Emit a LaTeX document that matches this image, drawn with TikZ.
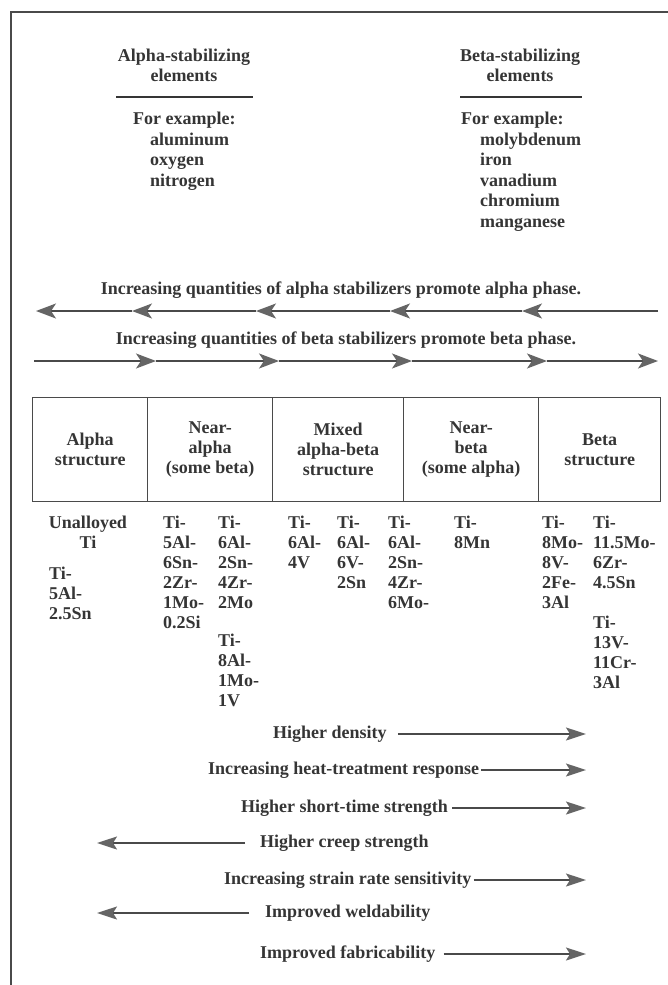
\documentclass[tikz,border=0pt]{standalone}
\usepackage{fontspec}
\setmainfont{Liberation Serif}
\usetikzlibrary{arrows.meta}
\definecolor{ink}{HTML}{353535}
\definecolor{linec}{HTML}{4A4A4A}
\definecolor{headc}{HTML}{656565}
\begin{document}
\begin{tikzpicture}[x=1pt,y=-1pt,
  txt/.style={font=\fontsize{18}{20}\selectfont\bfseries, text=ink, inner sep=0pt},
  one/.style={txt, text height=12pt, text depth=4pt},
  col/.style={txt, align=left, anchor=north west},
  lst/.style={txt, align=left, anchor=north west, font=\fontsize{18}{20.5}\selectfont\bfseries},
  hdr/.style={txt, align=center, anchor=north},
  cell/.style={draw=linec, line width=1.4pt, anchor=north west, minimum height=104pt,
     txt, align=center},
  frameline/.style={draw=linec, line width=1.5pt},
  rulel/.style={draw=ink, line width=2.2pt},
  phase/.style={draw=linec, line width=1.8pt, -{Stealth[length=20pt,width=15pt,inset=5pt,color=headc]}},
  prop/.style={draw=linec, line width=1.7pt, -{Stealth[length=20pt,width=13pt,inset=4pt,color=headc]}}]
\useasboundingbox (0,0) rectangle (668,985);

% frame
\coordinate (fTL) at (11,12);
\coordinate (fTR) at (668,12);
\coordinate (fBL) at (11,985);
\draw[frameline] (fTR) -- (fTL) -- (fBL);

% headers
\node[hdr] (ah) at (184,49) {Alpha-stabilizing\\elements};
\coordinate (ar1) at (116,97); \coordinate (ar2) at (253,97);
\draw[rulel] (ar1) -- (ar2);
\node[lst] (al) at (133,112) {For example:\\\hspace*{17pt}aluminum\\\hspace*{17pt}oxygen\\\hspace*{17pt}nitrogen};

\node[hdr] (bh) at (520,49) {Beta-stabilizing\\elements};
\coordinate (br1) at (460,97); \coordinate (br2) at (582,97);
\draw[rulel] (br1) -- (br2);
\node[lst] (bl) at (461,112) {For example:\\\hspace*{19pt}molybdenum\\\hspace*{19pt}iron\\\hspace*{19pt}vanadium\\\hspace*{19pt}chromium\\\hspace*{19pt}manganese};

% phase arrows
\node[one] (at) at (341,290) {Increasing quantities of alpha stabilizers promote alpha phase.};
\coordinate (a0) at (658,311); \coordinate (a1) at (522,311); \coordinate (a2) at (390,311);
\coordinate (a3) at (256,311); \coordinate (a4) at (132,311); \coordinate (a5) at (36,311);
\draw[phase] (a0) -- (a1);
\draw[phase] (a1) -- (a2);
\draw[phase] (a2) -- (a3);
\draw[phase] (a3) -- (a4);
\draw[phase] (a4) -- (a5);

\node[one] (bt) at (346,340) {Increasing quantities of beta stabilizers promote beta phase.};
\coordinate (b0) at (34,361); \coordinate (b1) at (156,361); \coordinate (b2) at (279,361);
\coordinate (b3) at (412,361); \coordinate (b4) at (547,361); \coordinate (b5) at (658,361);
\draw[phase] (b0) -- (b1);
\draw[phase] (b1) -- (b2);
\draw[phase] (b2) -- (b3);
\draw[phase] (b3) -- (b4);
\draw[phase] (b4) -- (b5);

% structure cells
\node[cell, minimum width=115pt] (c1) at (32,397) {Alpha\\structure};
\node[cell, minimum width=125pt] (c2) at (147,397) {Near-\\alpha\\(some beta)};
\node[cell, minimum width=131pt] (c3) at (272,397) {Mixed\\alpha-beta\\structure};
\node[cell, minimum width=135pt] (c4) at (403,397) {Near-\\beta\\(some alpha)};
\node[cell, minimum width=122pt] (c5) at (538,397) {Beta\\structure};

% alloys
\node[txt, align=center, anchor=north] (k1) at (88,516) {Unalloyed\\Ti};
\node[col] (k1b) at (49,567) {Ti-\\5Al-\\2.5Sn};
\node[col] (k2) at (163,516) {Ti-\\5Al-\\6Sn-\\2Zr-\\1Mo-\\0.2Si};
\node[col] (k3) at (218,516) {Ti-\\6Al-\\2Sn-\\4Zr-\\2Mo};
\node[col] (k3b) at (218,634) {Ti-\\8Al-\\1Mo-\\1V};
\node[col] (k4) at (288,516) {Ti-\\6Al-\\4V};
\node[col] (k5) at (337,516) {Ti-\\6Al-\\6V-\\2Sn};
\node[col] (k6) at (388,516) {Ti-\\6Al-\\2Sn-\\4Zr-\\6Mo-};
\node[col] (k7) at (454,516) {Ti-\\8Mn};
\node[col] (k8) at (542,516) {Ti-\\8Mo-\\8V-\\2Fe-\\3Al};
\node[col] (k9) at (593,516) {Ti-\\11.5Mo-\\6Zr-\\4.5Sn};
\node[col] (k9b) at (593,616) {Ti-\\13V-\\11Cr-\\3Al};

% property arrows
\coordinate (tipR) at (586,0);
\coordinate (tipL) at (97,0);
\node[one, anchor=west] (p1) at (273,734) {Higher density};
\draw[prop] ([xshift=11pt]p1.east) -- (p1.east -| tipR);
\node[one, anchor=west] (p2) at (208,770) {Increasing heat-treatment response};
\draw[prop] ([xshift=2pt]p2.east) -- (p2.east -| tipR);
\node[one, anchor=west] (p3) at (241,808) {Higher short-time strength};
\draw[prop] ([xshift=4pt]p3.east) -- (p3.east -| tipR);
\node[one, anchor=west] (p4) at (260,843) {Higher creep strength};
\draw[prop] ([xshift=-15pt]p4.west) -- (p4.west -| tipL);
\node[one, anchor=west] (p5) at (224,880) {Increasing strain rate sensitivity};
\draw[prop] ([xshift=2pt]p5.east) -- (p5.east -| tipR);
\node[one, anchor=west] (p6) at (265,913) {Improved weldability};
\draw[prop] ([xshift=-16pt]p6.west) -- (p6.west -| tipL);
\node[one, anchor=west] (p7) at (260,954) {Improved fabricability};
\draw[prop] ([xshift=8pt]p7.east) -- (p7.east -| tipR);
\end{tikzpicture}
\end{document}
